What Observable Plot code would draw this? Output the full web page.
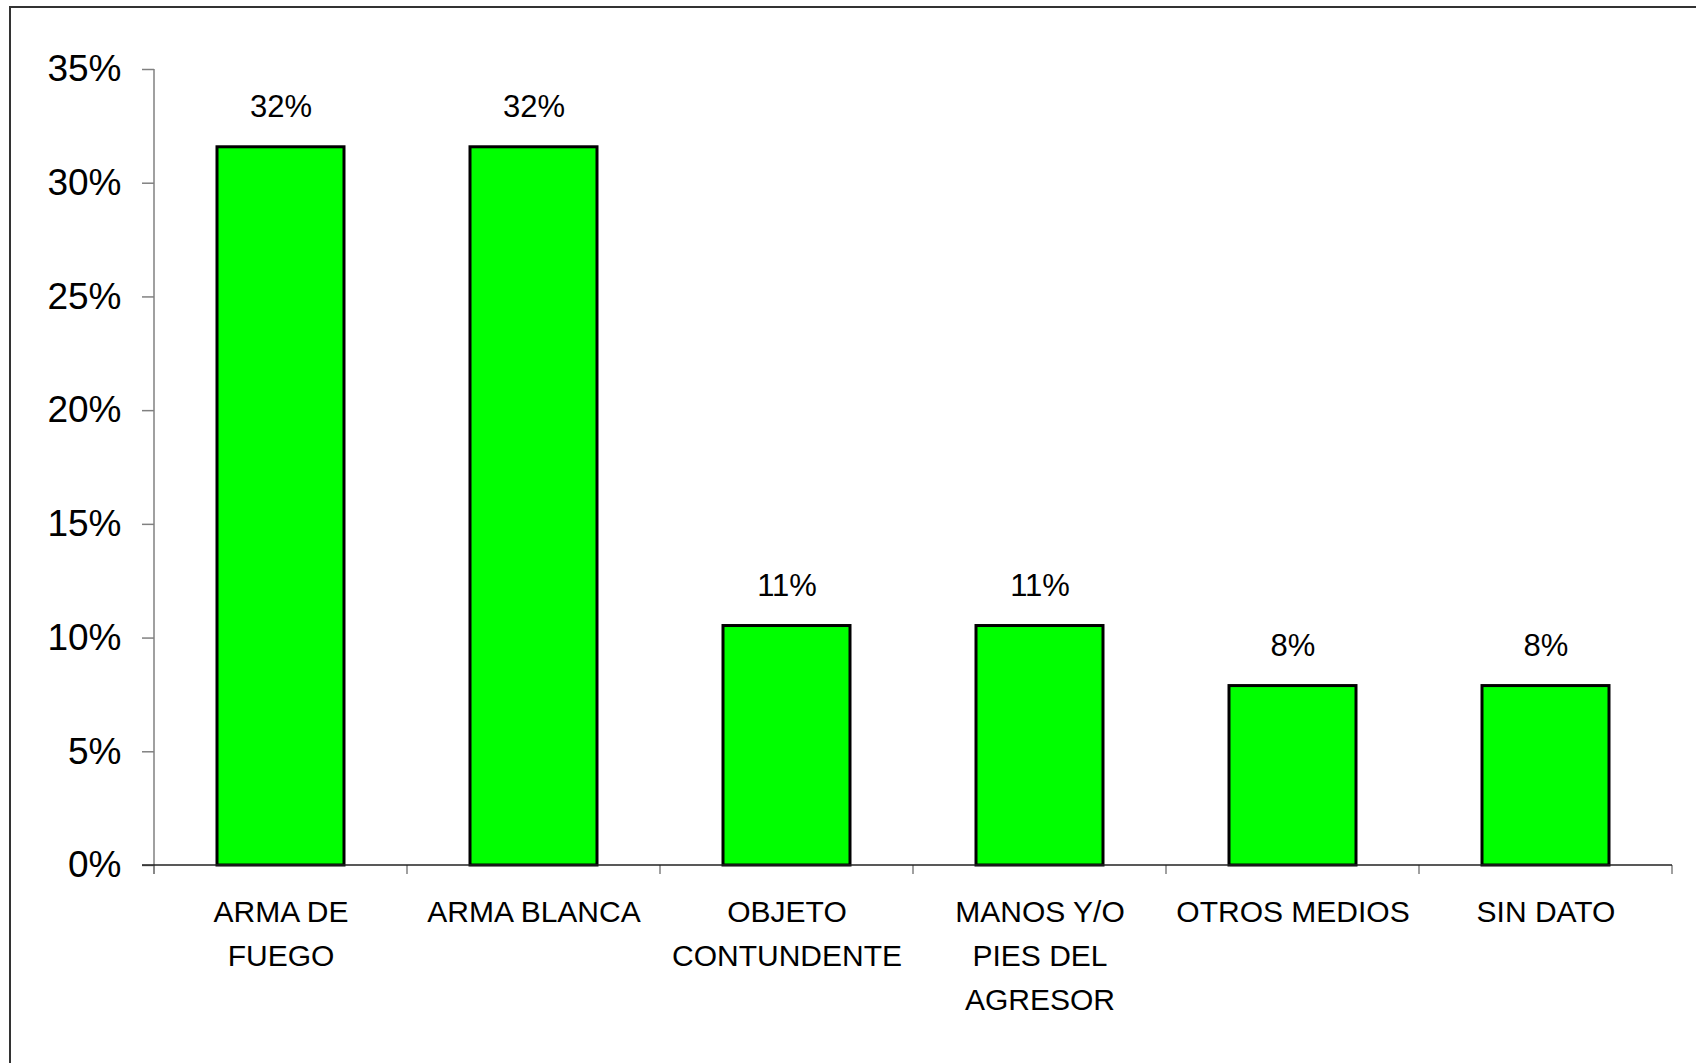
<!DOCTYPE html>
<html>
<head>
<meta charset="utf-8">
<script src="https://cdn.jsdelivr.net/npm/d3@7"></script>
<script src="https://cdn.jsdelivr.net/npm/@observablehq/plot@0.6"></script>
<style>
  html, body { margin: 0; padding: 0; background: #fff; }
  #wrap { position: relative; width: 1696px; height: 1063px; overflow: hidden; }
  #frame { position: absolute; left: 9px; top: 6px; width: 1800px; height: 1200px;
           border-top: 2px solid #333; border-left: 2px solid #333; box-sizing: border-box; pointer-events: none; }
  #chart { position: absolute; left: 0; top: 0; }
  svg { font-family: "Liberation Sans", Arial, sans-serif; }
</style>
</head>
<body>
<div id="wrap"><div id="chart"></div><div id="frame"></div></div>
<script>
const categories = ["ARMA DE FUEGO", "ARMA BLANCA", "OBJETO CONTUNDENTE", "MANOS Y/O PIES DEL AGRESOR", "OTROS MEDIOS", "SIN DATO"];
const labels = ["ARMA DE\nFUEGO", "ARMA BLANCA", "OBJETO\nCONTUNDENTE", "MANOS Y/O\nPIES DEL\nAGRESOR", "OTROS MEDIOS", "SIN DATO"];
const values = [0.3158, 0.3158, 0.1053, 0.1053, 0.0789, 0.0789];
const yTicks = [0, 0.05, 0.10, 0.15, 0.20, 0.25, 0.30, 0.35];

const data = categories.map((c, i) => ({category: c, label: labels[i], value: values[i]}));
const pct = d3.format(".0%");

function axisLines(index, scales, vals, dims) {
  const x = scales.x, y = scales.y;
  const bw = x.bandwidth ? x.bandwidth() : 0;
  const step = x.step ? x.step() : (dims.width - dims.marginLeft - dims.marginRight) / categories.length;
  const g = d3.create("svg:g");
  const y0 = y(0), yTop = y(yTicks[yTicks.length - 1]);
  const bounds = categories.map(c => x(c) - (step - bw) / 2);
  bounds.push(bounds[bounds.length - 1] + step);
  g.append("line").attr("x1", bounds[0]).attr("x2", bounds[0]).attr("y1", yTop).attr("y2", y0 + 9)
    .attr("stroke", "#808080").attr("stroke-width", 1.5);
  for (const b of bounds) {
    g.append("line").attr("x1", b).attr("x2", b).attr("y1", y0).attr("y2", y0 + 9)
      .attr("stroke", "#808080").attr("stroke-width", 1.5);
  }
  g.append("line").attr("x1", bounds[0] - 12).attr("x2", bounds[bounds.length - 1]).attr("y1", y0).attr("y2", y0)
    .attr("stroke", "#222").attr("stroke-width", 1.5);
  return g.node();
}

const chart = Plot.plot({
  width: 1696,
  height: 1063,
  marginLeft: 154,
  marginRight: 24,
  marginTop: 69,
  marginBottom: 198,
  style: {background: "transparent", fontFamily: "'Liberation Sans', Arial, sans-serif"},
  x: {domain: categories, paddingInner: 0.5, paddingOuter: 0.25, axis: null},
  y: {domain: [0, 0.35], axis: null},
  marks: [
    Plot.barY(data, {x: "category", y: "value", fill: "#00ff00", stroke: "#000", strokeWidth: 3}),
    Plot.axisY({ticks: yTicks, tickFormat: pct, tickSize: 12, tickPadding: 21, fontSize: 37, label: null,
                stroke: "#808080", strokeWidth: 1.5, fill: "#000"}),
    axisLines,
    Plot.text(data, {x: "category", y: "value", text: d => pct(d.value), lineAnchor: "bottom", dy: -30,
                     fontSize: 31, fill: "#000"}),
    Plot.text(data, {x: "category", text: "label", frameAnchor: "bottom", lineAnchor: "top", dy: 25,
                     lineHeight: 1.47, fontSize: 30, fill: "#000"})
  ]
});
document.getElementById("chart").appendChild(chart);
</script>
</body>
</html>
